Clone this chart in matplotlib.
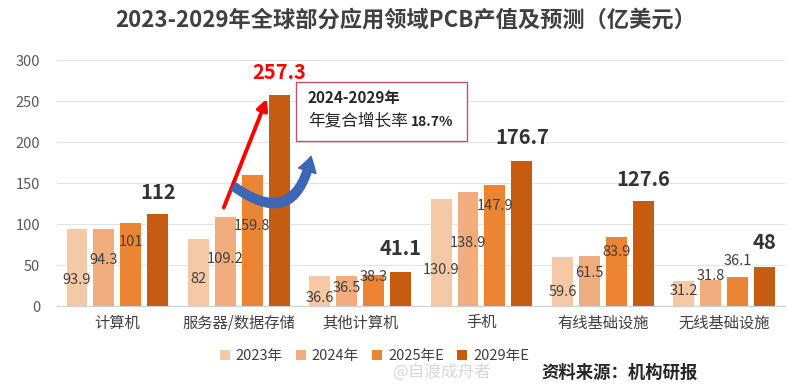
import numpy as np
import matplotlib.pyplot as plt
from matplotlib.patches import Rectangle, FancyArrowPatch

plt.rcParams['font.family'] = ['Noto Sans CJK SC', 'DejaVu Sans']

# data
categories = ['计算机', '服务器/数据存储', '其他计算机', '手机', '有线基础设施', '无线基础设施']
series_names = ['2023年', '2024年', '2025年E', '2029年E']
v2023 = [93.9, 82, 36.6, 130.9, 59.6, 31.2]
v2024 = [94.3, 109.2, 36.5, 138.9, 61.5, 31.8]
v2025 = [101, 159.8, 38.3, 147.9, 83.9, 36.1]
v2029 = [112, 257.3, 41.1, 176.7, 127.6, 48]
values = [v2023, v2024, v2025, v2029]

# where each value label sits (y, in axis units)
label_y = [[32, 33, 10, 44, 17, 18],
           [56, 58, 22, 77, 40, 37],
           [78, 98, 35, 122, 66, 55],
           [139, 285, 70, 206, 155, 77]]

colors = ['#F5C9A6', '#F2AD7E', '#EC8533', '#C65B12']

fig = plt.figure(figsize=(7.88, 3.9), dpi=100)
ax = fig.add_axes([0.072, 0.215, 0.924, 0.631])

x = np.arange(len(categories))
step = 0.222
width = 0.173
for j, vals in enumerate(values):
    xs = x + (j - 1.5) * step
    ax.bar(xs, vals, width, color=colors[j], label=series_names[j], zorder=2)
    for k, v in enumerate(vals):
        txt = f"{v:g}"
        if j == 3:
            c = 'red' if k == 1 else '#333333'
            ax.text(xs[k], label_y[j][k], txt, ha='center', va='center',
                    fontsize=14.5, fontweight='bold', color=c, zorder=4)
        else:
            ax.text(xs[k], label_y[j][k], txt, ha='center', va='center',
                    fontsize=10.5, color='#404040', zorder=4)

ax.set_xlim(-0.5, 5.5)
ax.set_ylim(0, 300)
ax.set_yticks(range(0, 301, 50))
ax.set_xticks(x)
ax.set_xticklabels(categories, fontsize=11, color='#404040')
ax.tick_params(axis='y', labelsize=10.5, labelcolor='#595959', length=0, pad=12)
ax.tick_params(axis='x', length=0, pad=6)
ax.grid(axis='y', color='#E3E3E3', linewidth=0.8, zorder=0)
for s in ['top', 'right', 'left']:
    ax.spines[s].set_visible(False)
ax.spines['bottom'].set_color('#C9D0DC')

# red arrow
ax.annotate('', xy=(1.24, 256), xytext=(0.868, 117),
            arrowprops=dict(arrowstyle='-|>', color='red', lw=2.8,
                            mutation_scale=16), zorder=5)
# blue curved arrow
blue = FancyArrowPatch((0.94, 148), (1.60, 186), connectionstyle='arc3,rad=0.8',
                       arrowstyle='simple,head_width=1.1,head_length=0.9,tail_width=0.5',
                       mutation_scale=12, color='#3D67B5', zorder=5)
ax.add_patch(blue)

# CAGR box
box = Rectangle((1.47, 201), 1.41, 72, fill=True, facecolor='white',
                edgecolor='#C4506E', linewidth=1.0, zorder=3, clip_on=False)
ax.add_patch(box)
ax.text(1.57, 254, '2024-2029年', fontsize=11, fontweight='bold', color='#262626',
        ha='left', va='center', zorder=4)
ax.text(1.57, 226, '年复合增长率', fontsize=12, color='#262626',
        ha='left', va='center', zorder=4)
ax.text(2.42, 225, '18.7%', fontsize=10, fontweight='bold', color='#262626',
        ha='left', va='center', zorder=4)

fig.text(0.515, 0.948, '2023-2029年全球部分应用领域PCB产值及预测（亿美元）',
         ha='center', va='center', fontsize=16, fontweight='bold', color='#404040')

fig.legend(loc='center', bbox_to_anchor=(0.475, 0.087), ncol=4, frameon=False,
           fontsize=10.5, handlelength=0.7, handleheight=0.7, handletextpad=0.4,
           columnspacing=0.9, labelcolor='#404040')

fig.text(0.786, 0.045, '资料来源：机构研报', ha='center', va='center',
         fontsize=12.5, fontweight='bold', color='#262626')
fig.text(0.56, 0.045, '@自渡成舟者', ha='center', va='center',
         fontsize=12, color='#D8D8D8')

fig.savefig('out.png', dpi=100, facecolor='white')
